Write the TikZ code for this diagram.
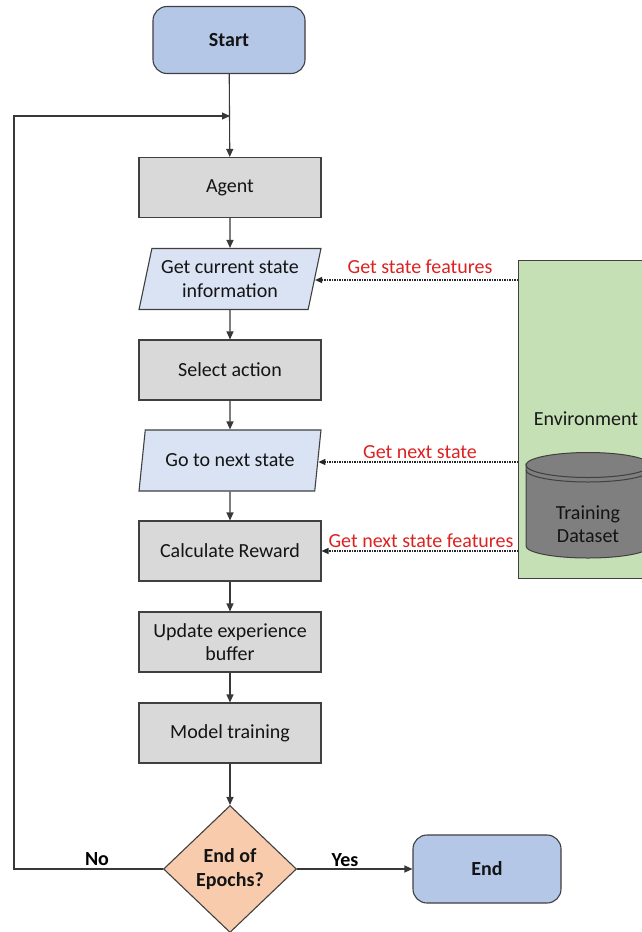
\documentclass[tikz,border=0pt]{standalone}
\usepackage{fontspec}
\setmainfont{Carlito}
\usetikzlibrary{shapes.geometric,arrows.meta}

\definecolor{termfill}{HTML}{B4C7E7}
\definecolor{iofill}{HTML}{DAE3F3}
\definecolor{procfill}{HTML}{D9D9D9}
\definecolor{decfill}{HTML}{F8CBAD}
\definecolor{envfill}{HTML}{C5E0B4}
\definecolor{dbfill}{HTML}{7F7F7F}
\definecolor{edge}{HTML}{404040}
\definecolor{lbl}{HTML}{DD2222}

\begin{document}
\begin{tikzpicture}[x=1pt,y=-1pt,
  font=\fontsize{20}{23.5}\selectfont,
  base/.style={draw=edge, line width=1.1pt, text=black!92, align=center, inner sep=2pt},
  terminal/.style={base, fill=termfill, rounded corners=14pt,
    font=\fontsize{20}{23.5}\selectfont\bfseries},
  process/.style={base, fill=procfill, minimum width=182pt, minimum height=60pt},
  io/.style={base, fill=iofill, trapezium, trapezium left angle=74,
    trapezium right angle=106, trapezium stretches=true,
    minimum width=182pt, minimum height=61pt},
  decision/.style={base, fill=decfill, diamond, inner sep=0pt,
    minimum width=133pt, minimum height=127pt,
    font=\fontsize{20}{24}\selectfont\bfseries},
  flow/.style={draw=black!78, line width=1.1pt, -{Triangle[length=8pt,width=7pt]}},
  feed/.style={draw=black!85, line width=1.2pt, dash pattern=on 1.2pt off 1.3pt,
    -{Triangle[length=7pt,width=6pt]}},
  feedlabel/.style={text=lbl, inner sep=0pt},
  answer/.style={inner sep=0pt, font=\fontsize{20}{23.5}\selectfont\bfseries},
]
\useasboundingbox (0,0) rectangle (642,932);
\fill[white] (0,0) rectangle (642,932);
\clip (0,0) rectangle (642,932);

% environment block on the right, with the training data store
\node[draw=edge, line width=1.1pt, fill=envfill, anchor=north west,
      minimum width=190pt, minimum height=318pt, inner sep=0pt] (env) at (518,260) {};
\node[text=black!90] (envname) at (586,419) {Environment};

\path[draw=black!75, line width=1pt, fill=dbfill]
  (526,465) -- (526,546) arc[start angle=180, end angle=0, x radius=62, y radius=12]
  -- (650,465) arc[start angle=0, end angle=180, x radius=62, y radius=12] -- cycle;
\draw[black!75, line width=1pt, fill=dbfill]
  (588,465) ellipse[x radius=62, y radius=12.5];
\draw[black!75, line width=1pt]
  (526,470) arc[start angle=180, end angle=0, x radius=62, y radius=12];
\node[align=center, text=black!92] (data) at (588,524) {Training\\Dataset};

% main flow
\node[terminal, minimum width=152pt, minimum height=67pt] (start) at (229,40) {Start};
\node[process] (agent) at (230,187.5) {Agent};
\node[io] (cur) at (230,279) {Get current state\\information};
\node[process] (select) at (230,370) {Select action};
\node[io] (next) at (230,460.5) {Go to next state};
\node[process] (reward) at (230,551) {Calculate Reward};
\node[process] (buffer) at (230,642) {Update experience\\buffer};
\node[process] (train) at (230,733) {Model training};
\node[decision] (epochs) at (230,869) {End of\\Epochs?};
\node[terminal, minimum width=148pt, minimum height=68pt] (end) at (487,869) {End};

\coordinate (join) at (230,116);
\coordinate (loopcorner) at (14,116);

\draw[flow] (start) -- (agent);
\draw[flow] (agent) -- (cur);
\draw[flow] (cur) -- (select);
\draw[flow] (select) -- (next);
\draw[flow] (next) -- (reward);
\draw[flow] (reward) -- (buffer);
\draw[flow] (buffer) -- (train);
\draw[flow] (train) -- (epochs);
\draw[flow] (epochs.east) -- (end.west);
\draw[flow] (epochs.west) -| (loopcorner) -- (join);

\node[answer] (yes) at (345,860) {Yes};
\node[answer] (no) at (97,859) {No};

% data fed from the environment
\draw[feed] (env.west |- 0,280) -- (cur.east |- 0,280);
\draw[feed] (env.west |- 0,462) -- (next.east |- 0,462);
\draw[feed] (env.west |- reward.east) -- (reward.east);
\node[feedlabel] (l1) at (420,267) {Get state features};
\node[feedlabel] (l2) at (420,452) {Get next state};
\node[feedlabel] (l3) at (421,541) {Get next state features};
\end{tikzpicture}
\end{document}
